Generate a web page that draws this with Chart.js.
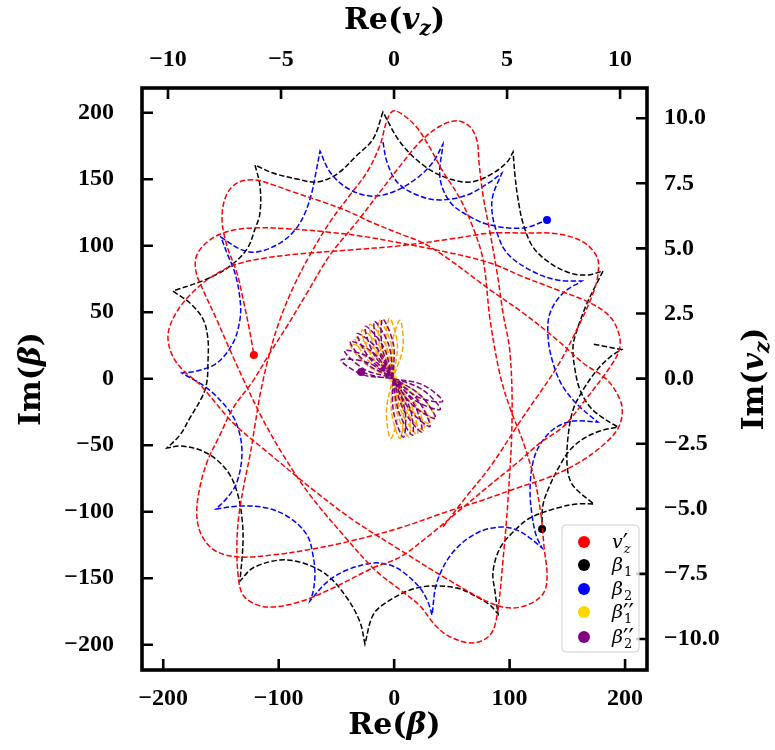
<!DOCTYPE html>
<html>
<head>
<meta charset="utf-8">
<script src="https://cdn.jsdelivr.net/npm/chart.js@4.4.1/dist/chart.umd.min.js"></script>
<style>
  html, body { margin: 0; padding: 0; background: #fff; }
</style>
</head>
<body>
<canvas id="orbitChart" width="775" height="750"></canvas>
<script>
// v'_z trajectory, plotted against the top/right (v_z) axes
const vzPrime = [
  [2.17,-5.69],[3.19,-4.54],[4.25,-3.39],[5.71,-1.47],[7.21,0.45],[8.23,2.14],[8.81,3.29],[9.03,4.06],[8.98,4.67],[8.36,5.25],
  [7.21,5.56],[5.71,5.59],[4.25,5.59],[2.79,5.40],[0.27,5.10],[-1.95,4.94],[-4.16,4.79],[-5.71,4.63],[-7.04,4.37],[-8.14,3.87],
  [-9.03,3.21],[-9.69,2.45],[-10.00,1.68],[-9.82,0.91],[-9.34,0.33],[-8.58,-0.24],[-7.12,-1.70],[-5.62,-2.81],[-3.58,-4.27],[-1.81,-5.43],
  [0.27,-6.58],[2.26,-7.65],[4.25,-8.61],[5.22,-8.81],[6.11,-8.61],[6.64,-8.19],[6.77,-7.54],[6.64,-6.50],[6.50,-5.23],[6.24,-3.97],
  [5.71,-2.43],[5.13,-1.13],[4.69,0.14],[4.25,2.25],[3.94,4.56],[3.45,5.90],[2.83,7.05],[2.17,7.94],[1.59,8.86],[1.02,9.63],
  [0.40,10.13],[-0.04,10.28],[-0.31,9.93],[-0.62,8.97],[-1.19,7.94],[-1.95,7.05],[-2.83,6.02],[-3.72,4.75],[-4.51,3.41],[-5.13,2.06],
  [-5.58,0.72],[-5.93,-0.63],[-6.15,-1.78],[-6.37,-2.93],[-6.64,-4.08],[-6.86,-5.23],[-6.95,-6.27],[-6.90,-7.54],[-6.68,-8.31],[-6.06,-8.69],
  [-5.35,-8.77],[-4.16,-8.57],[-2.70,-8.04],[-0.93,-7.27],[0.27,-6.85],[1.59,-6.00],[2.92,-5.04],[4.25,-4.08],[5.44,-3.24],[6.46,-2.47],
  [7.48,-1.85],[8.36,-0.93],[9.56,0.45],[9.96,1.10],[9.96,1.68],[9.56,2.37],[8.67,2.91],[7.21,3.41],[5.71,3.91],[4.25,4.44],
  [2.26,4.87],[0.27,5.21],[-1.50,5.48],[-2.96,5.63],[-4.60,5.75],[-6.06,5.79],[-7.26,5.67],[-8.14,5.33],[-8.72,4.75],[-8.76,4.10],
  [-8.41,3.33],[-7.88,2.33],[-7.30,1.18],[-6.59,-0.17],[-5.84,-1.51],[-4.91,-2.93],[-3.72,-4.47],[-2.17,-6.08],[-0.84,-7.35],[0.27,-8.11],
  [1.15,-8.73],[1.81,-9.46],[2.48,-9.92],[3.50,-10.15],[4.25,-9.84],[4.56,-9.07],[4.82,-6.96],[5.04,-4.66],[5.22,-1.59],[5.13,0.99],
  [4.82,2.52],[4.56,4.06],[4.25,5.59],[3.94,7.02],[3.76,8.28],[3.67,9.13],[3.36,9.67],[2.79,9.90],[2.04,9.70],[1.15,9.09],
  [0.27,8.17],[-0.49,7.32],[-1.64,6.02],[-2.83,4.75],[-3.85,3.29],[-4.73,2.02],[-5.49,0.99],[-6.24,-0.09],[-7.12,-1.13],[-7.70,-2.16],
  [-8.27,-3.20],[-8.63,-4.35],[-8.72,-5.35],[-8.45,-6.12],[-7.83,-6.65],[-6.81,-6.85],[-5.35,-6.77],[-3.85,-6.58],[-2.08,-6.27],[0.27,-5.73],
  [2.17,-5.16],[3.94,-4.66],[5.58,-4.16],[6.90,-3.77],[8.23,-3.20],[9.25,-2.55],[9.87,-1.97],[10.09,-1.39],[10.00,-0.82],[9.43,-0.05],
  [8.36,0.60],[7.21,1.49],[5.71,2.52],[4.25,3.41],[2.35,4.63],[1.28,5.21],[0.27,5.56],[-0.93,5.98],[-2.08,6.44],[-3.27,6.82],
  [-4.47,7.17],[-5.35,7.44],[-6.15,7.63],[-6.95,7.51],[-7.43,7.02],[-7.61,6.13],[-7.39,5.10],[-6.95,4.06],[-6.68,3.06],[-6.37,1.75],
  [-6.20,0.91]
];

// beta_1 (cusp points appear twice so the corners stay sharp)
const beta1 = [
  [173,26],[184,24],[197,22],[197,22],[187,16.3],[175.7,6.5],[163.6,-8.5],[154.9,-23.5],[150.6,-43.8],[149.7,-63.4],
  [152.3,-76.2],[158.4,-83.7],[173.1,-94.2],[173.1,-94.2],[158.4,-94.2],[141.1,-97.2],[117.7,-104.7],[103,-115.3],[91.7,-127.3],[85.6,-145.3],
  [87.4,-160.4],[90,-176.9],[90,-176.9],[83,-170.2],[71.8,-164.1],[54.4,-157.4],[31.1,-155.9],[13.7,-158.9],[-6.2,-167.9],[-18.3,-177.7],
  [-25.3,-199.5],[-25.3,-199.5],[-29.6,-182.9],[-40.8,-164.9],[-58.2,-147.6],[-79,-138.6],[-98.9,-136.3],[-122.3,-142.3],[-133.5,-152.1],[-133.5,-152.1],
  [-130.9,-122.8],[-131.8,-104.7],[-135.3,-87.4],[-142.2,-72.4],[-153.5,-61.1],[-168.2,-53.6],[-185.5,-50.6],[-196.8,-52.1],[-196.8,-52.1],[-185.5,-42.3],
  [-176.9,-29.5],[-165.6,-12.3],[-162.1,-1.7],[-161.3,11.8],[-161.3,29.9],[-165.6,44.9],[-176.9,56.9],[-191.6,65.9],[-191.6,65.9],[-162.1,75],
  [-142.2,84.7],[-127.5,97.5],[-120.5,112.6],[-116.2,124.6],[-116.2,144.9],[-120.5,160.7],[-120.5,160.7],[-105,154.7],[-84.2,150.2],[-66.8,147.9],
  [-49.5,153.9],[-33,167.4],[-18.3,180.2],[-9.7,200.5],[-9.7,200.5],[5.1,178],[25,160.7],[45.8,150.9],[65.7,147.9],[83,153.2],
  [97.8,162.9],[103,170.5],[103,170.5],[104.7,152.4],[107.3,135.1],[111.6,117.1],[120.3,99],[135,87],[152.3,79.5],[167.1,78],
  [180.9,81],[180.9,81],[175.7,72],[167.1,56.9],[158.4,36.6],[154.9,23.8],[156.7,6.5],[161,-8.5],[169.7,-21.3],[180.9,-29.5],
  [193.9,-36.3],[193.9,-36.3],[178.3,-39.3],[163.6,-45.3],[152.3,-53.6],[143.7,-64.9],[135,-79.9],[128.9,-95],[128.1,-113]
];

// beta_2
const beta2 = [
  [-9.7,178],[-6.2,162.9],[2.5,147.9],[19.8,138.1],[39.7,134.4],[63.1,138.1],[83,147.9],[93.4,154.7],[93.4,154.7],[85.6,138.1],
  [84.8,125.3],[89.1,109.6],[97.8,94.5],[117.7,81.7],[141.1,74.2],[162.7,73.5],[162.7,73.5],[146.3,64.4],[135,49.4],[133.3,31.4],
  [137.6,11.8],[146.3,-6.2],[161,-21.3],[176.6,-32.6],[176.6,-32.6],[154.9,-31.8],[139.3,-37.1],[127.2,-48.3],[120.3,-62.6],[117.7,-83.7],
  [119.4,-102.5],[122.9,-117.5],[128.1,-127.3],[128.1,-127.3],[117.7,-119.8],[106.4,-113.8],[91.7,-111.5],[71.8,-116],[51,-130.3],[37.1,-152.9],
  [32.8,-177.7],[32.8,-177.7],[29.3,-167.9],[22.4,-157.4],[7.7,-145.3],[-3.6,-140.1],[-18.3,-138.6],[-40.8,-143.8],[-58.2,-152.9],[-72.9,-167.1],
  [-72.9,-167.1],[-70.3,-160.4],[-68.6,-147.6],[-70.3,-132.6],[-75.5,-117.5],[-90.2,-104.7],[-110.2,-97.2],[-133.5,-95.7],[-154.3,-98],[-154.3,-98],
  [-144.8,-89.7],[-136.1,-77.7],[-131.8,-55.1],[-136.1,-34.8],[-144.8,-22],[-162.1,-7],[-183.8,4.3],[-183.8,4.3],[-170.8,5.8],[-153.5,11.8],
  [-139.6,26.8],[-133.5,44.9],[-133.5,59.9],[-137.9,79.5],[-144.8,94.5],[-150,106.5],[-150,106.5],[-133.5,97.5],[-118.8,95.3],[-98.9,102],
  [-85.9,111.8],[-77.2,124.6],[-71.2,140.4],[-67.7,155.4],[-64.2,171.2],[-64.2,171.2],[-55.6,155.4],[-40.8,143.4],[-20.9,137.4],[-1,140.4],
  [19.8,150.9],[33.7,162.9],[42.3,176.5],[42.3,176.5],[39.7,150.9],[48.4,132.9],[63.1,123.1],[83,115.6],[111.6,113.3],[132.4,119.3]
];

// beta''_1: rotating figure-eight petals around the origin
const beta1pp = [
  [-1,0],
  [-2.1,24.8],[5,44],[7.6,23.6],[-1,0],[-6.65,-24.4],[-3,-45],[3.35,-25.1],[-1,0],
  [-7.2,24.6],[-4,45.5],[2.8,25.4],[-1,0],[-2.2,-25.3],[5,-45],[7.7,-24.2],[-1,0],
  [-11.9,22.8],[-13,44],[-2.35,25.6],[-1,0],[2.35,-25.6],[13,-44],[11.9,-22.8],[-1,0],
  [-16,20.3],[-21,41],[-7.1,24.8],[-1,0],[6.5,-25.2],[20,-42],[15.5,-21],[-1,0],
  [-19.4,17],[-28,36.5],[-11.4,23.1],[-1,0],[10.1,-24.2],[26,-39],[18.5,-18.7],[-1,0],
  [-22.1,13.4],[-34,31],[-15.3,20.7],[-1,0],[13.4,-22.1],[31,-34],[20.7,-15.3],[-1,0],
  [-23.7,10.2],[-38,26],[-18.1,18.4],[-1,0],[16.1,-19.8],[35,-29],[22.4,-12.1],[-1,0]
];

// beta''_2
const beta2pp = [
  [-1,0],
  [-10.4,23.7],[-10,45],[-0.6,25.8],[-1,0],[-0.5,-25.1],[8,-44],[9.3,-23.3],[-1,0],
  [-14,21.8],[-17,43],[-4.7,25.5],[-1,0],[4.1,-25.2],[16,-42.5],[13.5,-21.6],[-1,0],
  [-18,19],[-25,39.5],[-9.5,24.4],[-1,0],[8.9,-24.6],[24,-40],[17.5,-19.4],[-1,0],
  [-21.2,15.3],[-32,34],[-14,22.1],[-1,0],[13.3,-23.1],[31,-36],[20.8,-16.5],[-1,0],
  [-23.9,11.4],[-38,28],[-17.9,19.4],[-1,0],[16.6,-20.3],[36,-30],[23,-12.7],[-1,0],
  [-25.8,7.1],[-43,21],[-21.5,16],[-1,0],[19.5,-17],[40,-23],[24.5,-8.3],[-1,0],
  [-26.8,2.9],[-46,14],[-23.8,12.5],[-1,0],[21.2,-14],[42,-17],[25,-4.7],[-1,0],
  [-14,1.5],[-28.6,5]
];

// tick values for each axis
const betaXTicks = [-200, -100, 0, 100, 200];
const betaYTicks = [-200, -150, -100, -50, 0, 50, 100, 150, 200];
const vzXTicks = [-10, -5, 0, 5, 10];
const vzYTicks = [-10, -7.5, -5, -2.5, 0, 2.5, 5, 7.5, 10];

// legend entries: base symbol, superscript, subscript
const legendLabels = [
  { base: 'v', sup: '\u2032', sub: 'z' },
  { base: '\u03b2', sup: '', sub: '1' },
  { base: '\u03b2', sup: '', sub: '2' },
  { base: '\u03b2', sup: '\u2032\u2032', sub: '1' },
  { base: '\u03b2', sup: '\u2032\u2032', sub: '2' }
];

const lineColors = ['#ff0000', '#000000', '#0000ff', '#ffa500', '#800080'];
const dotColors = ['#ff0000', '#000000', '#0000ff', '#ffd700', '#800080'];

const toPts = arr => arr.map(([x, y]) => ({ x, y }));
const minus = s => s.replace('-', '\u2212');
const fmtInt = v => minus(String(v));
const fmtDec = v => minus(v.toFixed(1));

const tickFont = { family: '"Liberation Serif", serif', size: 24, weight: 'bold' };

function curve(i, data, xAxisID, yAxisID, order) {
  const last = data.length - 1;
  return {
    data: toPts(data),
    xAxisID, yAxisID, order,
    showLine: true,
    borderColor: lineColors[i],
    borderWidth: 1.5,
    borderDash: [5.5, 2.4],
    tension: 0.35,
    fill: false,
    pointRadius: ctx => (ctx.dataIndex === last ? 4 : 0),
    pointHoverRadius: 0,
    pointBorderWidth: 0,
    pointBackgroundColor: dotColors[i],
    pointBorderColor: dotColors[i]
  };
}

function fixedTicks(values) {
  return scale => { scale.ticks = values.map(v => ({ value: v })); };
}

// draws a run of text pieces, each with its own font and vertical shift
function drawPieces(ctx, pieces, x, y) {
  let w = 0;
  pieces.forEach(p => { ctx.font = p.font; p.w = ctx.measureText(p.text).width; w += p.w; });
  let cx = x - w / 2;
  pieces.forEach(p => {
    ctx.font = p.font;
    ctx.fillText(p.text, cx, y + (p.dy || 0));
    cx += p.w;
  });
}

const B = s => `bold ${s}px "DejaVu Serif", serif`;
const BI = s => `italic bold ${s}px "DejaVu Serif", serif`;

function axisTitle(prefix, sym, sub) {
  const pieces = [{ text: prefix + '(', font: B(30) }, { text: sym, font: BI(30) }];
  if (sub) pieces.push({ text: sub, font: BI(20), dy: 6 });
  pieces.push({ text: ')', font: B(30) });
  return pieces;
}

const decorPlugin = {
  id: 'decor',
  afterDatasetsDraw(chart) {
    const { ctx, chartArea: a, scales } = chart;
    ctx.save();
    ctx.strokeStyle = '#000';
    ctx.lineWidth = 2.6;
    const tl = 11;
    ctx.beginPath();
    scales.x.ticks.forEach(t => { const p = scales.x.getPixelForValue(t.value); ctx.moveTo(p, a.bottom); ctx.lineTo(p, a.bottom - tl); });
    scales.x2.ticks.forEach(t => { const p = scales.x2.getPixelForValue(t.value); ctx.moveTo(p, a.top); ctx.lineTo(p, a.top + tl); });
    scales.y.ticks.forEach(t => { const p = scales.y.getPixelForValue(t.value); ctx.moveTo(a.left, p); ctx.lineTo(a.left + tl, p); });
    scales.y2.ticks.forEach(t => { const p = scales.y2.getPixelForValue(t.value); ctx.moveTo(a.right, p); ctx.lineTo(a.right - tl, p); });
    ctx.stroke();
    ctx.lineWidth = 3.6;
    ctx.strokeRect(a.left, a.top, a.right - a.left, a.bottom - a.top);
    ctx.restore();
  },
  afterDraw(chart) {
    const { ctx, chartArea: a } = chart;
    const cx = (a.left + a.right) / 2;
    const cy = (a.top + a.bottom) / 2;
    ctx.save();
    ctx.fillStyle = '#000';
    ctx.textBaseline = 'alphabetic';
    ctx.textAlign = 'left';

    drawPieces(ctx, axisTitle('Re', '\u03b2'), cx, 734);
    drawPieces(ctx, axisTitle('Re', 'v', 'z'), cx, 29);

    ctx.save();
    ctx.translate(40, cy);
    ctx.rotate(-Math.PI / 2);
    drawPieces(ctx, axisTitle('Im', '\u03b2'), 0, 0);
    ctx.restore();

    ctx.save();
    ctx.translate(763, cy);
    ctx.rotate(-Math.PI / 2);
    drawPieces(ctx, axisTitle('Im', 'v', 'z'), 0, 0);
    ctx.restore();

    // legend box in the lower right corner
    const lx = 562, ly = 525, lw = 77, lh = 127;
    ctx.beginPath();
    ctx.roundRect(lx, ly, lw, lh, 4);
    ctx.fillStyle = 'rgba(255,255,255,0.8)';
    ctx.fill();
    ctx.strokeStyle = '#d0d0d0';
    ctx.lineWidth = 1;
    ctx.stroke();

    const rows = [542, 565, 589, 612, 637];
    legendLabels.forEach((lab, i) => {
      const y = rows[i];
      ctx.beginPath();
      ctx.arc(584, y, 6, 0, Math.PI * 2);
      ctx.fillStyle = dotColors[i];
      ctx.fill();

      ctx.fillStyle = '#000';
      const bx = 612;
      ctx.font = 'italic 19px "DejaVu Serif", serif';
      ctx.fillText(lab.base, bx, y + 6);
      const bw = ctx.measureText(lab.base).width;
      ctx.font = '24px "DejaVu Sans", sans-serif';
      if (lab.sup) ctx.fillText(lab.sup, bx + bw, y + 9);
      ctx.font = (lab.sub === 'z' ? 'italic ' : '') + '13px "DejaVu Serif", serif';
      ctx.fillText(lab.sub, bx + bw + 1, y + 11);
    });
    ctx.restore();
  }
};

new Chart(document.getElementById('orbitChart'), {
  type: 'scatter',
  data: {
    datasets: [
      curve(0, vzPrime, 'x2', 'y2', 0),
      curve(1, beta1, 'x', 'y', 4),
      curve(2, beta2, 'x', 'y', 3),
      curve(3, beta1pp, 'x', 'y', 2),
      curve(4, beta2pp, 'x', 'y', 1)
    ]
  },
  options: {
    responsive: false,
    animation: false,
    devicePixelRatio: 1,
    layout: { padding: 0 },
    plugins: { legend: { display: false }, tooltip: { enabled: false } },
    scales: {
      x: {
        type: 'linear', position: 'bottom', min: -218.4, max: 219,
        afterBuildTicks: fixedTicks(betaXTicks),
        afterFit: s => { s.height = 80; },
        grid: { display: false, drawTicks: false }, border: { display: false },
        ticks: { font: tickFont, color: '#000', padding: 14, autoSkip: false, maxRotation: 0, callback: fmtInt }
      },
      y: {
        type: 'linear', position: 'left', min: -219, max: 218.6,
        afterBuildTicks: fixedTicks(betaYTicks),
        afterFit: s => { s.width = 142; },
        grid: { display: false, drawTicks: false }, border: { display: false },
        ticks: { font: tickFont, color: '#000', padding: 28, autoSkip: false, callback: fmtInt }
      },
      x2: {
        type: 'linear', position: 'top', min: -11.15, max: 11.19,
        afterBuildTicks: fixedTicks(vzXTicks),
        afterFit: s => { s.height = 88; },
        grid: { display: false, drawTicks: false }, border: { display: false },
        ticks: { font: tickFont, color: '#000', padding: 14, autoSkip: false, maxRotation: 0, callback: fmtInt }
      },
      y2: {
        type: 'linear', position: 'right', min: -11.19, max: 11.16,
        afterBuildTicks: fixedTicks(vzYTicks),
        afterFit: s => { s.width = 128; },
        grid: { display: false, drawTicks: false }, border: { display: false },
        ticks: { font: tickFont, color: '#000', padding: 17, autoSkip: false, callback: fmtDec }
      }
    }
  },
  plugins: [decorPlugin]
});
</script>
</body>
</html>
